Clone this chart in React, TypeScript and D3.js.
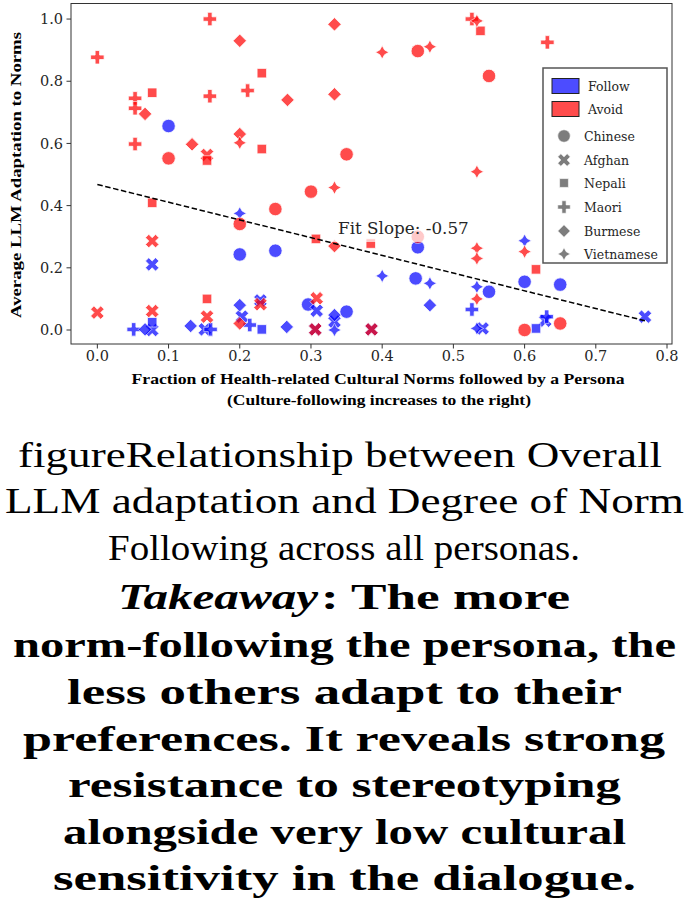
import React from "react";
import * as d3 from "d3";

type Pt = [number, number];

// Avoid group (red)
const avoidChinese: Pt[] = [[0.10, 0.552], [0.45, 0.897], [0.55, 0.817], [0.35, 0.565], [0.25, 0.389], [0.30, 0.445], [0.20, 0.341], [0.45, 0.30], [0.60, 0.0], [0.65, 0.021]];
const avoidAfghan: Pt[] = [[0.0, 0.056], [0.077, 0.286], [0.077, 0.061], [0.154, 0.563], [0.154, 0.043], [0.229, 0.083], [0.308, 0.102], [0.306, 0.002], [0.385, 0.002]];
const avoidNepali: Pt[] = [[0.231, 0.826], [0.077, 0.763], [0.154, 0.545], [0.231, 0.582], [0.538, 0.962], [0.077, 0.409], [0.307, 0.293], [0.384, 0.278], [0.154, 0.1], [0.616, 0.195]];
const avoidMaori: Pt[] = [[0.0, 0.877], [0.158, 1.0], [0.211, 0.77], [0.053, 0.745], [0.053, 0.713], [0.158, 0.752], [0.053, 0.598], [0.526, 1.0], [0.632, 0.925]];
const avoidBurmese: Pt[] = [[0.2, 0.93], [0.067, 0.695], [0.133, 0.597], [0.2, 0.63], [0.333, 0.983], [0.267, 0.74], [0.333, 0.758], [0.333, 0.27], [0.2, 0.021]];
const avoidVietnamese: Pt[] = [[0.2, 0.602], [0.4, 0.893], [0.467, 0.911], [0.533, 0.994], [0.533, 0.509], [0.333, 0.458], [0.533, 0.263], [0.533, 0.23], [0.6, 0.252], [0.533, 0.1]];

// Follow group (blue)
const followChinese: Pt[] = [[0.10, 0.656], [0.20, 0.243], [0.25, 0.255], [0.45, 0.266], [0.447, 0.166], [0.35, 0.059], [0.296, 0.082], [0.60, 0.155], [0.65, 0.146], [0.55, 0.123]];
const followAfghan: Pt[] = [[0.077, 0.211], [0.077, 0.0], [0.151, 0.002], [0.203, 0.043], [0.229, 0.095], [0.308, 0.062], [0.333, 0.027], [0.306, 0.002], [0.385, 0.002], [0.541, 0.005], [0.769, 0.043], [0.629, 0.03]];
const followNepali: Pt[] = [[0.077, 0.025], [0.231, 0.002], [0.616, 0.005]];
const followMaori: Pt[] = [[0.051, 0.002], [0.159, 0.002], [0.214, 0.016], [0.526, 0.066], [0.631, 0.043]];
const followBurmese: Pt[] = [[0.067, 0.002], [0.131, 0.013], [0.2, 0.08], [0.266, 0.01], [0.333, 0.048], [0.467, 0.08]];
const followVietnamese: Pt[] = [[0.2, 0.375], [0.4, 0.174], [0.467, 0.15], [0.333, 0.0], [0.533, 0.139], [0.533, 0.005], [0.6, 0.287]];

const cultures = ["Chinese", "Afghan", "Nepali", "Maori", "Burmese", "Vietnamese"];
const groups = ["Follow", "Avoid"];
const xTicks = [0, 0.1, 0.2, 0.3, 0.4, 0.5, 0.6, 0.7, 0.8];
const yTicks = [0, 0.2, 0.4, 0.6, 0.8, 1.0];

const fitSlope = -0.57;
const fitIntercept = 0.468;

const captionLines = [
  "figureRelationship between Overall",
  "LLM adaptation and Degree of Norm",
  "Following across all personas.",
  "Takeaway",
  ": The more",
  "norm-following the persona, the",
  "less others adapt to their",
  "preferences. It reveals strong",
  "resistance to stereotyping",
  "alongside very low cultural",
  "sensitivity in the dialogue.",
];

const seriesByGroup: Record<string, Pt[][]> = {
  Follow: [followChinese, followAfghan, followNepali, followMaori, followBurmese, followVietnamese],
  Avoid: [avoidChinese, avoidAfghan, avoidNepali, avoidMaori, avoidBurmese, avoidVietnamese],
};

const groupColor: Record<string, string> = { Follow: "#0000ff", Avoid: "#ff0000" };

// Filled marker outlines, sized like matplotlib markers (ms = overall size in px)
function markerPath(culture: string, ms: number): string {
  const h = ms / 2;
  const poly = (pts: number[][]) => "M" + pts.map((p) => `${p[0].toFixed(2)},${p[1].toFixed(2)}`).join("L") + "Z";
  switch (culture) {
    case "Chinese":
      return `M${h},0A${h},${h} 0 1,1 ${-h},0A${h},${h} 0 1,1 ${h},0Z`;
    case "Afghan": {
      const v = [[-1, -2], [0, -1], [1, -2], [2, -1], [1, 0], [2, 1], [1, 2], [0, 1], [-1, 2], [-2, 1], [-1, 0], [-2, -1]];
      return poly(v.map(([a, b]) => [(a / 4) * ms, (b / 4) * ms]));
    }
    case "Nepali": {
      const s = h * Math.SQRT1_2;
      return poly([[-s, -s], [s, -s], [s, s], [-s, s]]);
    }
    case "Maori": {
      const v = [[-1, -3], [-1, -1], [-3, -1], [-3, 1], [-1, 1], [-1, 3], [1, 3], [1, 1], [3, 1], [3, -1], [1, -1], [1, -3]];
      return poly(v.map(([a, b]) => [(a / 6) * ms, (b / 6) * ms]));
    }
    case "Burmese":
      return poly([[0, -h], [h, 0], [0, h], [-h, 0]]);
    default: {
      const pts: number[][] = [];
      for (let i = 0; i < 8; i++) {
        const r = i % 2 === 0 ? h : h * 0.5;
        const a = (i * Math.PI) / 4 - Math.PI / 2;
        pts.push([r * Math.cos(a), r * Math.sin(a)]);
      }
      return poly(pts);
    }
  }
}

const W = 689;
const H = 922;
const left = 71;
const right = 672;
const top = 3.5;
const bottom = 344;

export default function App() {
  const x = d3.scaleLinear().domain([-0.037, 0.807]).range([left, right]);
  const y = d3.scaleLinear().domain([-0.045, 1.05]).range([bottom, top]);
  const ms = 13.5;

  const allX = groups.flatMap((g) => seriesByGroup[g].flat().map((p) => p[0]));
  const [xmin, xmax] = d3.extent(allX) as [number, number];
  const fitLine = d3
    .line<number>()
    .x((d) => x(d))
    .y((d) => y(fitIntercept + fitSlope * d));

  const tickFont = "'DejaVu Serif', serif";
  const capFont = "'Liberation Serif', 'Times New Roman', Times, serif";

  // caption layout: [x start, x end, baseline, bold, italic]
  const capLayout: [number, number, number, boolean, boolean][] = [
    [18, 662, 467, false, false],
    [5, 684, 513, false, false],
    [108, 580, 560, false, false],
    [118, 318, 609, true, true],
    [321, 570, 609, true, false],
    [13, 676, 657, true, false],
    [67, 622, 704, true, false],
    [23, 665, 751, true, false],
    [68, 621, 797, true, false],
    [63, 626, 844, true, false],
    [53, 636, 890, true, false],
  ];

  const legendX = 543;
  const legendY = 68;
  const legendW = 124;
  const legendH = 195;
  const patchRows = [86, 109];
  const markerRows = [136, 160, 183, 207, 231, 254];

  return (
    <svg width={W} height={H} style={{ position: "absolute", left: 0, top: 0, background: "#fff" }}>
      <rect x={0} y={0} width={W} height={H} fill="#fff" />
      {/* axes frame */}
      <rect x={left} y={top} width={right - left} height={bottom - top} fill="none" stroke="#333" strokeWidth={1} />
      {xTicks.map((t) => (
        <g key={"xt" + t}>
          <line x1={x(t)} x2={x(t)} y1={bottom} y2={bottom + 4.5} stroke="#333" strokeWidth={1} />
          <text x={x(t)} y={bottom + 17} fontFamily={tickFont} fontSize={14.5} fill="#262626" textAnchor="middle">
            {t.toFixed(1)}
          </text>
        </g>
      ))}
      {yTicks.map((t) => (
        <g key={"yt" + t}>
          <line x1={left - 4.5} x2={left} y1={y(t)} y2={y(t)} stroke="#333" strokeWidth={1} />
          <text x={left - 8} y={y(t)} dy="0.36em" fontFamily={tickFont} fontSize={14.5} fill="#262626" textAnchor="end">
            {t.toFixed(1)}
          </text>
        </g>
      ))}

      {/* scatter points */}
      <g>
        {groups.map((g) =>
          seriesByGroup[g].map((pts, ci) =>
            pts.map((p, i) => (
              <path
                key={`${g}-${ci}-${i}`}
                d={markerPath(cultures[ci], ms)}
                transform={`translate(${x(p[0])},${y(p[1])})`}
                fill={groupColor[g]}
                stroke="#fff"
                strokeWidth={0.8}
                opacity={0.7}
              />
            ))
          )
        )}
      </g>

      {/* regression line */}
      <path d={fitLine([xmin, xmax]) || ""} fill="none" stroke="#000" strokeWidth={1.5} strokeDasharray="5.5,2.6" />

      {/* fit annotation */}
      <rect x={332} y={214} width={146} height={28} fill="#fff" opacity={0.7} />
      <text x={338} y={228} dy="0.36em" fontFamily={tickFont} fontSize={16.8} fill="#262626">
        {`Fit Slope: ${fitSlope.toFixed(2)}`}
      </text>

      {/* legend */}
      <rect x={legendX} y={legendY} width={legendW} height={legendH} fill="#fff" stroke="#555" strokeWidth={1.5} />
      {groups.map((g, i) => (
        <g key={"lg" + g}>
          <rect x={552} y={patchRows[i] - 7.5} width={27} height={15} fill={groupColor[g]} fillOpacity={0.7} stroke="#222" strokeWidth={1} />
          <text x={588} y={patchRows[i]} dy="0.36em" fontFamily={tickFont} fontSize={12.5} fill="#262626">
            {g}
          </text>
        </g>
      ))}
      {cultures.map((c, i) => (
        <g key={"lc" + c}>
          <path d={markerPath(c, 12.5)} transform={`translate(564,${markerRows[i]})`} fill="#777" stroke="#fff" strokeWidth={0.6} opacity={0.95} />
          <text x={584} y={markerRows[i]} dy="0.36em" fontFamily={tickFont} fontSize={12.5} fill="#262626">
            {c}
          </text>
        </g>
      ))}

      {/* axis titles */}
      <text
        x={378}
        y={384}
        textAnchor="middle"
        fontFamily={capFont}
        fontWeight="bold"
        fontSize={14}
        textLength={493}
        lengthAdjust="spacingAndGlyphs"
      >
        Fraction of Health-related Cultural Norms followed by a Persona
      </text>
      <text
        x={379}
        y={405}
        textAnchor="middle"
        fontFamily={capFont}
        fontWeight="bold"
        fontSize={14}
        textLength={304}
        lengthAdjust="spacingAndGlyphs"
      >
        (Culture-following increases to the right)
      </text>
      <text
        transform={`translate(21,175) rotate(-90)`}
        textAnchor="middle"
        fontFamily={capFont}
        fontWeight="bold"
        fontSize={14}
        textLength={286}
        lengthAdjust="spacingAndGlyphs"
      >
        Average LLM Adaptation to Norms
      </text>

      {/* caption */}
      {captionLines.map((line, i) => {
        const [x1, x2, base, bold, italic] = capLayout[i];
        return (
          <text
            key={"cap" + i}
            x={x1}
            y={base}
            fontFamily={capFont}
            fontSize={36}
            fontWeight={bold ? "bold" : "normal"}
            fontStyle={italic ? "italic" : "normal"}
            fill="#000"
            textLength={x2 - x1}
            lengthAdjust="spacingAndGlyphs"
          >
            {line}
          </text>
        );
      })}
    </svg>
  );
}
